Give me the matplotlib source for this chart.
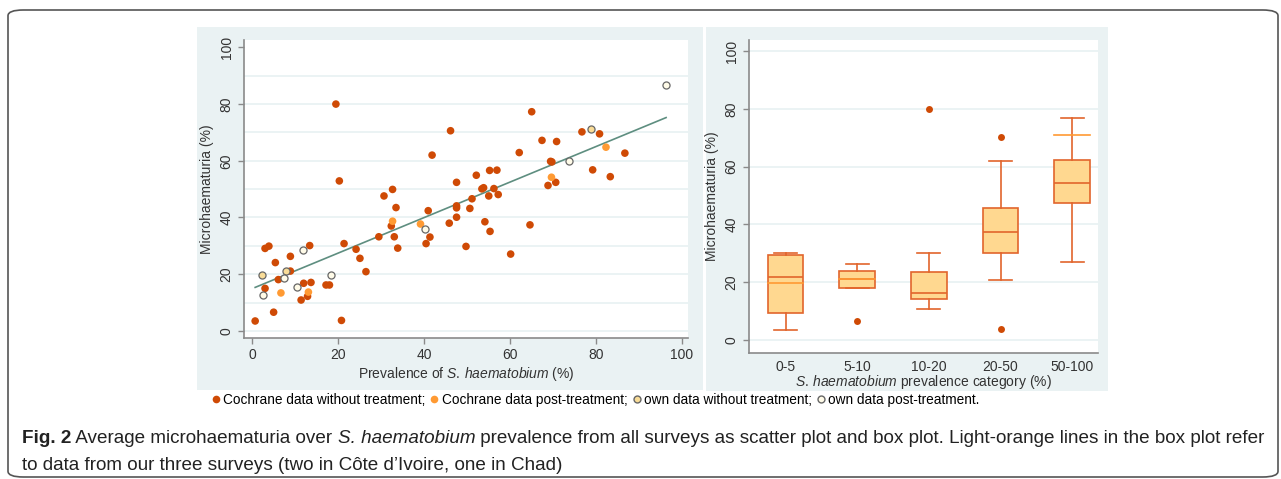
import numpy as np
import matplotlib
matplotlib.use("Agg")
import matplotlib.pyplot as plt
from matplotlib.patches import Rectangle, FancyBboxPatch
from matplotlib.lines import Line2D

plt.rcParams['font.family'] = ['Liberation Sans', 'DejaVu Sans']
plt.rcParams['mathtext.fontset'] = 'custom'
plt.rcParams['mathtext.rm'] = 'Liberation Sans'
plt.rcParams['mathtext.it'] = 'Liberation Sans:italic'

# scatter data: prevalence (%) vs microhaematuria (%)
cochrane_x = [0.7, 3.0, 3.9, 5.4, 5.0, 6.1, 3.0, 8.9, 8.9, 13.4, 12.0, 13.7, 11.4, 12.9,
              17.2, 18.0, 20.8, 21.4, 24.2, 25.1, 26.5, 29.5, 32.4, 33.1, 33.9, 33.5,
              40.5, 41.0, 41.4, 45.9, 47.6, 47.6, 47.6, 49.8, 50.7, 51.2, 54.2, 55.4,
              60.2, 64.7, 19.5, 20.3, 30.7, 32.7, 41.9, 46.2, 47.6, 52.2, 53.5, 53.9,
              55.1, 55.3, 56.3, 57.0, 57.3, 62.2, 65.1, 67.5, 68.9, 69.5, 69.8, 70.7,
              70.9, 76.8, 79.3, 80.9, 83.4, 86.8]
cochrane_y = [3.5, 29.1, 29.9, 24.1, 6.6, 18.1, 15.0, 26.3, 21.1, 30.1, 16.8, 17.1, 10.9, 12.2,
              16.2, 16.2, 3.7, 30.8, 28.8, 25.6, 20.9, 33.2, 37.0, 33.2, 29.2, 43.5,
              30.8, 42.4, 33.1, 38.0, 43.4, 44.1, 40.1, 29.8, 43.2, 46.6, 38.5, 35.1,
              27.1, 37.4, 80.0, 52.9, 47.6, 49.9, 62.0, 70.6, 52.4, 54.9, 50.1, 50.5,
              47.6, 56.6, 50.2, 56.7, 48.1, 62.9, 77.3, 67.2, 51.3, 59.8, 59.6, 52.4,
              66.8, 70.2, 56.8, 69.5, 54.4, 62.7]
cochrane_post_x = [6.7, 13.1, 32.7, 39.2, 69.7, 82.4]
cochrane_post_y = [13.4, 13.7, 38.7, 37.7, 54.2, 64.8]
own_x = [2.2, 7.8, 78.9]
own_y = [19.7, 21.3, 71.1]
own_post_x = [2.6, 7.4, 10.5, 11.9, 18.3, 40.3, 73.9, 96.4]
own_post_y = [12.6, 18.6, 15.6, 28.7, 19.8, 35.9, 59.9, 86.6]

# box plot summary values per prevalence category
categories = ['0-5', '5-10', '10-20', '20-50', '50-100']
box_low = [3.5, 18.1, 10.7, 20.6, 26.9]
box_q1 = [9.2, 18.1, 14.1, 30.1, 47.5]
box_med = [21.8, 21.0, 16.3, 37.2, 54.2]
box_q3 = [29.5, 23.9, 23.4, 45.5, 62.4]
box_high = [29.9, 26.1, 29.9, 62.0, 77.0]
box_outliers = [[], [6.5], [80.0], [70.4, 3.6], []]
own_survey_cat = [0, 1, 4]
own_survey_val = [19.6, 21.2, 71.1]

dark = '#cf4a05'
light = '#ff9a33'
box_edge = '#e2652c'
box_fill = '#ffd890'
panel_bg = '#eaf2f3'
grid_c = '#e8f1f2'
axis_c = '#8a8a8a'
text_c = '#333333'

W, H = 1281, 479
fig = plt.figure(figsize=(W / 100, H / 100), dpi=100)


def fx(px):
    return px / W


def fy(py):
    return 1 - py / H


# rounded frame and panel backgrounds (behind the axes)
fig.patches.append(FancyBboxPatch((fx(8), fy(477)), fx(1270), fy(10) - fy(477),
                                  boxstyle='round,pad=0,rounding_size=0.012',
                                  transform=fig.transFigure, fill=False, zorder=-2,
                                  edgecolor='#555555', linewidth=1.2))
fig.patches.append(Rectangle((fx(197), fy(390)), fx(506), fy(27) - fy(390), zorder=-2,
                             transform=fig.transFigure, facecolor=panel_bg, edgecolor='none'))
fig.patches.append(Rectangle((fx(706), fy(391)), fx(402), fy(27) - fy(391), zorder=-2,
                             transform=fig.transFigure, facecolor=panel_bg, edgecolor='none'))


def style_axes(ax):
    for s in ['top', 'right']:
        ax.spines[s].set_visible(False)
    for s in ['left', 'bottom']:
        ax.spines[s].set_color(axis_c)
        ax.spines[s].set_linewidth(1.2)
    ax.tick_params(colors=axis_c, labelcolor=text_c, labelsize=10, length=4, width=1)
    for lab in ax.get_yticklabels():
        lab.set_rotation(90)
        lab.set_va('center')


# left: scatter
ax1 = fig.add_axes([fx(244), fy(338), fx(444), fy(40) - fy(338)])
ax1.set_facecolor('white')
ax1.set_xlim(-1.9, 101.5)
ax1.set_ylim(-2.5, 102.6)
for g in range(0, 100, 10):
    ax1.axhline(g, color=grid_c, lw=1.2, zorder=0)
all_x = np.array(cochrane_x + cochrane_post_x + own_x + own_post_x)
all_y = np.array(cochrane_y + cochrane_post_y + own_y + own_post_y)
slope, icpt = np.polyfit(all_x, all_y, 1)
xl = np.array([all_x.min(), all_x.max()])
ax1.plot(xl, icpt + slope * xl, color='#5e8e80', lw=1.2, zorder=2)
ax1.scatter(cochrane_x, cochrane_y, s=30, color=dark, edgecolors='none', zorder=3)
ax1.scatter(cochrane_post_x, cochrane_post_y, s=30, color=light, edgecolors='none', zorder=3)
ax1.scatter(own_x, own_y, s=26, color='#f9dc97', edgecolors='#666666', linewidths=0.9, zorder=3)
ax1.scatter(own_post_x, own_post_y, s=26, color='#fffbe8', edgecolors='#666666', linewidths=0.9, zorder=3)
ax1.set_xticks(range(0, 101, 20))
ax1.set_yticks(range(0, 101, 20))
style_axes(ax1)
ax1.set_ylabel('Microhaematuria (%)', fontsize=10, color=text_c, labelpad=4)
ax1.set_xlabel('Prevalence of $\\mathit{S.\\,haematobium}$ (%)', fontsize=10,
               color=text_c, labelpad=2)

# right: box plot
ax2 = fig.add_axes([fx(749), fy(353), fx(349), fy(40) - fy(353)])
ax2.set_facecolor('white')
for g in range(0, 101, 20):
    ax2.axhline(g, color=grid_c, lw=1.2, zorder=0)
stats = []
for i in range(len(categories)):
    stats.append({'whislo': box_low[i], 'q1': box_q1[i], 'med': box_med[i],
                  'q3': box_q3[i], 'whishi': box_high[i], 'fliers': box_outliers[i]})
pos = np.arange(1, len(categories) + 1)
ax2.bxp(stats, positions=pos, widths=0.5, patch_artist=True,
        boxprops=dict(facecolor=box_fill, edgecolor=box_edge, linewidth=1.2),
        medianprops=dict(color=box_edge, linewidth=1.2),
        whiskerprops=dict(color=box_edge, linewidth=1.2),
        capprops=dict(color=box_edge, linewidth=1.2),
        capwidths=0.32,
        flierprops=dict(marker='o', markerfacecolor=dark, markeredgecolor='none', markersize=5))
for c, v in zip(own_survey_cat, own_survey_val):
    ax2.plot([pos[c] - 0.25, pos[c] + 0.25], [v, v], color=light, lw=1.2, zorder=4)
ax2.set_xlim(0.49, 5.36)
ax2.set_ylim(-4.6, 103.9)
ax2.set_xticks(pos)
ax2.set_xticklabels(categories)
ax2.set_yticks(range(0, 101, 20))
style_axes(ax2)
ax2.tick_params(axis='x', length=0, pad=5)
ax2.set_ylabel('Microhaematuria (%)', fontsize=10, color=text_c, labelpad=4)
ax2.set_xlabel('$\\mathit{S.\\,haematobium}$ prevalence category (%)', fontsize=10,
               color=text_c, labelpad=-1)

# legend line under the scatter
handles = [
    Line2D([], [], ls='none', marker='o', markersize=5.5, color=dark, markeredgecolor='none'),
    Line2D([], [], ls='none', marker='o', markersize=5.5, color=light, markeredgecolor='none'),
    Line2D([], [], ls='none', marker='o', markersize=5, markerfacecolor='#f9dc97', markeredgecolor='#666666'),
    Line2D([], [], ls='none', marker='o', markersize=5, markerfacecolor='#fffbe8', markeredgecolor='#666666'),
]
labels = ['Cochrane data without treatment;', 'Cochrane data post-treatment;',
          'own data without treatment;', 'own data post-treatment.']
fig.legend(handles, labels, loc='center', bbox_to_anchor=(fx(596), fy(400)), ncol=4,
           frameon=False, handlelength=0.5, handletextpad=0.3, columnspacing=0.4,
           prop={'size': 9.8})

# caption, scaled so the first line spans the frame like the reference
renderer = fig.canvas.get_renderer()


def write_pieces(pieces, x0, y0, size):
    x = x0
    for txt, kw in pieces:
        t = fig.text(fx(x), fy(y0), txt, fontsize=size, color='#222222', va='baseline', **kw)
        x += t.get_window_extent(renderer=renderer).width
    return x - x0


line1 = [('Fig. 2', {'weight': 'bold'}),
         (' Average microhaematuria over ', {}),
         ('S. haematobium', {'style': 'italic'}),
         (' prevalence from all surveys as scatter plot and box plot. Light-orange lines in the box plot refer', {})]
line2 = [('to data from our three surveys (two in C\u00f4te d\u2019Ivoire, one in Chad)', {})]
probe = fig.text(0, 0, ''.join(p[0] for p in line1), fontsize=12)
w12 = probe.get_window_extent(renderer=renderer).width
probe.remove()
cap_size = 12 * 1250 / w12
write_pieces(line1, 22, 443, cap_size)
write_pieces(line2, 22, 470, cap_size)

fig.savefig('out.png', dpi=100)
